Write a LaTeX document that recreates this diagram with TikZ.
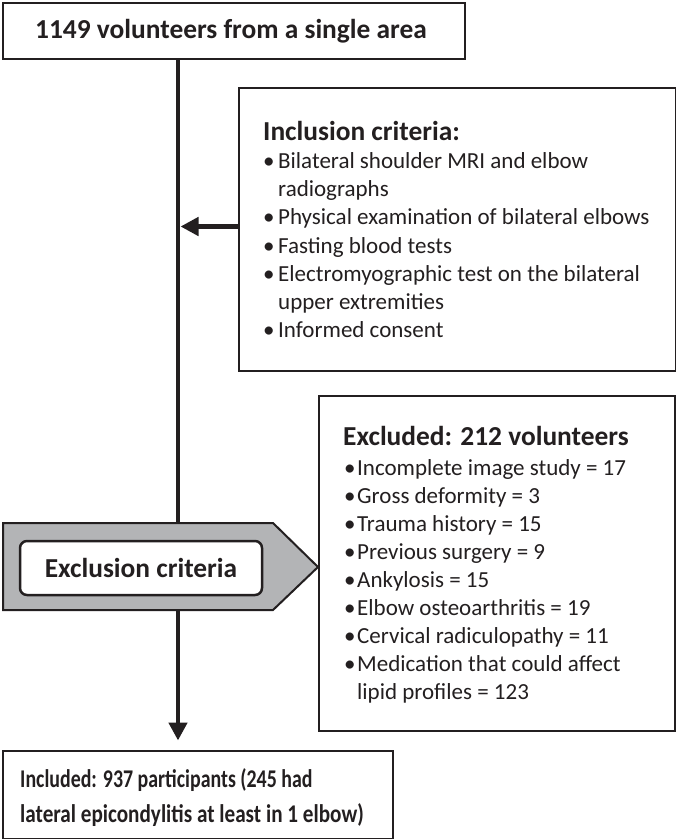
\documentclass[tikz,border=0pt]{standalone}
\usepackage{fontspec}
\setmainfont{Carlito}
\usetikzlibrary{arrows.meta}
\definecolor{ink}{HTML}{231F20}
\definecolor{grayfill}{HTML}{B3B4B6}
\newcommand\bulA{\makebox[15pt][l]{•}}
\newcommand\bulB{\makebox[13pt][l]{•}}
\begin{document}
\begin{tikzpicture}[x=1pt,y=-1pt,
  box/.style={draw=ink, line width=2pt, fill=white, inner sep=0pt, anchor=north west},
  txt/.style={anchor=base west, inner sep=0pt, text=ink, font=\fontsize{23}{28}\selectfont},
  hd/.style={anchor=base west, inner sep=0pt, text=ink, font=\fontsize{27.4}{32}\selectfont\bfseries},
  hdb/.style={anchor=base west, inner sep=0pt, text=ink, font=\fontsize{25.5}{30}\selectfont\bfseries},
  flow/.style={draw=ink, line width=4.5pt},
  tipend/.style={-{Triangle[length=18pt,width=18pt]}}
]
\useasboundingbox (0,0) rectangle (676,839);
\fill[white] (0,0) rectangle (676,839);

% boxes
\node[box, minimum width=462pt, minimum height=56pt] (top) at (1.5,2) {};
\node[box, minimum width=437pt, minimum height=283pt] (incl) at (238,87) {};
\node[box, minimum width=356pt, minimum height=335pt] (excl) at (318,395) {};
\node[box, minimum width=390pt, minimum height=88pt] (bot) at (1.5,749.5) {};

% main vertical flow
\coordinate (vx) at (178,0);
\draw[flow, tipend, shorten >=9pt] (vx |- top.south) -- (vx |- bot.north);

% inclusion arrow
\coordinate (ia) at ([yshift=3pt]incl.west);
\coordinate (vr) at (180.5,0);
\draw[flow, tipend] (ia) -- (vr |- ia);

% exclusion pentagon
\draw[draw=ink, line width=2pt, fill=grayfill]
  (3,523) -- (273,523) -- (318,567) -- (273,610) -- (3,610) -- cycle;
\node[draw=ink, line width=2.5pt, fill=white, rounded corners=7pt,
      minimum width=242pt, minimum height=54pt, inner sep=0pt] (exc) at (141,568) {};
\node[hd, anchor=base] (exctxt) at (141,577) {Exclusion criteria};

% texts
\node[hd] (toptxt) at (35,38) {1149 volunteers from a single area};

\node[hd] (inh) at (263,140) {Inclusion criteria:};
\node[txt] (i1) at (263,168) {\bulA Bilateral shoulder MRI and elbow};
\node[txt] (i2) at (263,196) {\hspace*{15pt}radiographs};
\node[txt] (i3) at (263,224) {\bulA Physical examination of bilateral elbows};
\node[txt] (i4) at (263,253) {\bulA Fasting blood tests};
\node[txt] (i5) at (263,281) {\bulA Electromyographic test on the bilateral};
\node[txt] (i6) at (263,309) {\hspace*{15pt}upper extremities};
\node[txt] (i7) at (263,337) {\bulA Informed consent};

\node[hd] (exh) at (343,445) {Excluded: 212 volunteers};
\node[txt] (e1) at (344,475) {\bulB Incomplete image study = 17};
\node[txt] (e2) at (344,503) {\bulB Gross deformity = 3};
\node[txt] (e3) at (344,531) {\bulB Trauma history = 15};
\node[txt] (e4) at (344,559) {\bulB Previous surgery = 9};
\node[txt] (e5) at (344,587) {\bulB Ankylosis = 15};
\node[txt] (e6) at (344,615) {\bulB Elbow osteoarthritis = 19};
\node[txt] (e7) at (344,643) {\bulB Cervical radiculopathy = 11};
\node[txt] (e8) at (344,671) {\bulB Medication that could affect};
\node[txt] (e9) at (344,699) {\hspace*{13pt}lipid profiles = 123};

\node[hdb] (b1) at (20,787) {\scalebox{0.78}[1]{Included: 937 participants (245 had}};
\node[hdb] (b2) at (20,822) {\scalebox{0.83}[1]{lateral epicondylitis at least in 1 elbow)}};
\end{tikzpicture}
\end{document}
